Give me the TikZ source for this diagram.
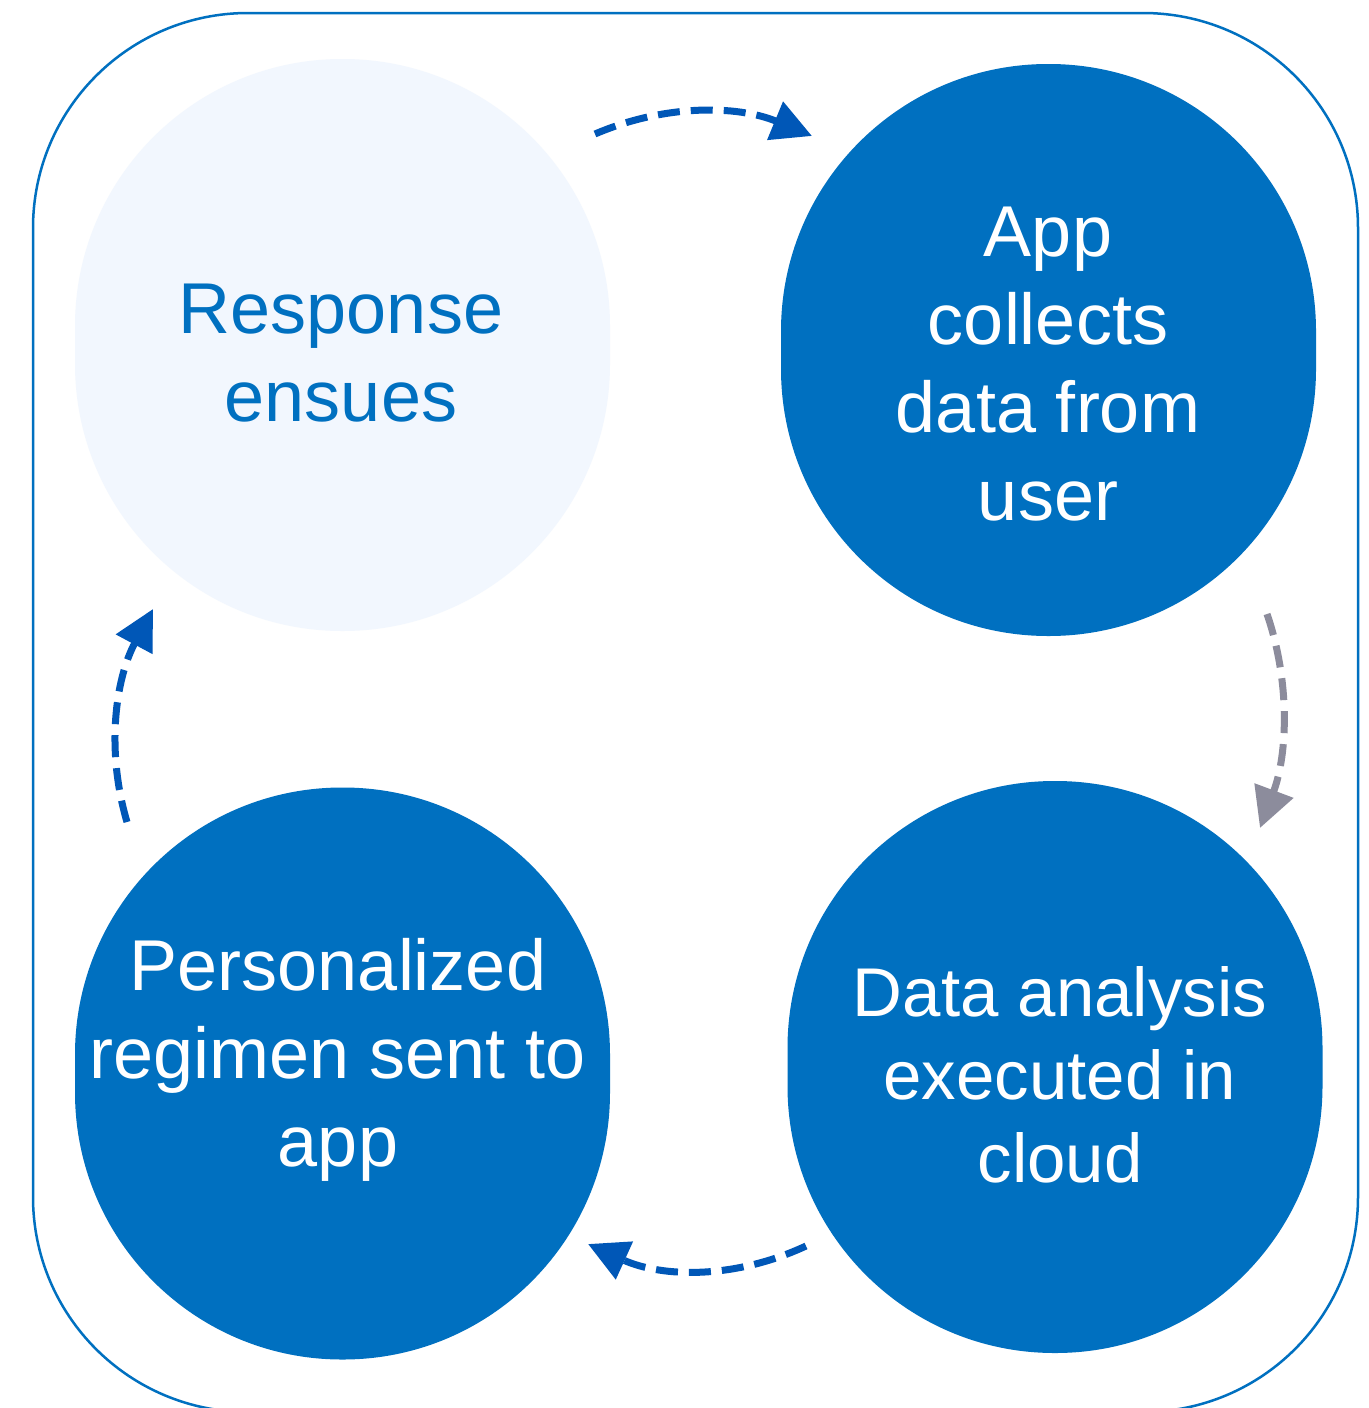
\documentclass[tikz,border=0pt]{standalone}
\usepackage{fontspec}
\setmainfont{Liberation Sans}
\usetikzlibrary{arrows.meta}
\definecolor{mainblue}{HTML}{0070C0}
\definecolor{lightfill}{HTML}{F2F7FE}
\definecolor{arrowblue}{HTML}{0057B7}
\definecolor{arrowgray}{HTML}{8C8C9C}
\begin{document}
\begin{tikzpicture}[x=1pt,y=-1pt,
  stage/.style={rectangle, rounded corners=267pt, minimum width=535pt, minimum height=572pt, inner sep=0pt},
  darkstage/.style={stage, fill=mainblue},
  lightstage/.style={stage, fill=lightfill},
  stagetext/.style={align=center, inner sep=0pt, font=\fontsize{72}{88}\selectfont},
  darktext/.style={stagetext, text=white},
  lighttext/.style={stagetext, text=mainblue},
  flow/.style={line width=7pt, dash pattern=on 22pt off 11pt, -{Triangle[length=40pt,width=40pt]}},
  bluflow/.style={flow, draw=arrowblue},
  grayflow/.style={flow, draw=arrowgray},
]
\useasboundingbox (0,0) rectangle (1368,1408);
\fill[white] (0,0) rectangle (1368,1408);
% frame
\draw[mainblue, line width=2.5pt, rounded corners=215pt] (33,13) rectangle (1358,1412);
% stages
\node[lightstage] (resp) at (342.5,345) {};
\node[darkstage] (app) at (1048.5,350) {};
\node[darkstage] (data) at (1055,1067) {};
\node[darkstage] (pers) at (342.5,1073.5) {};
% labels
\node[lighttext] (resp-t) at (341,353) {Response\\ensues};
\node[darktext] (app-t) at (1048,364) {App\\collects\\data from\\user};
\node[darktext, font=\fontsize{69}{83}\selectfont] (data-t) at (1060,1075) {Data analysis\\executed in\\cloud};
\node[darktext] (pers-t) at (338,1060) {Personalized\\regimen sent to\\app};
% connector ends
\coordinate (a1s) at (595,134);
\coordinate (a1e) at (812,136);
\coordinate (a2s) at (1267,614);
\coordinate (a2e) at (1260,828);
\coordinate (a3s) at (806,1246);
\coordinate (a3e) at (588,1244);
\coordinate (a4s) at (127,822);
\coordinate (a4e) at (153,609);
\draw[bluflow] (a1s) .. controls (665,104) and (737,105) .. (a1e);
\draw[grayflow] (a2s) .. controls (1290,681) and (1288,753) .. (a2e);
\draw[bluflow] (a3s) .. controls (735,1279) and (663,1278) .. (a3e);
\draw[bluflow] (a4s) .. controls (106,751) and (115,680) .. (a4e);
\end{tikzpicture}
\end{document}
